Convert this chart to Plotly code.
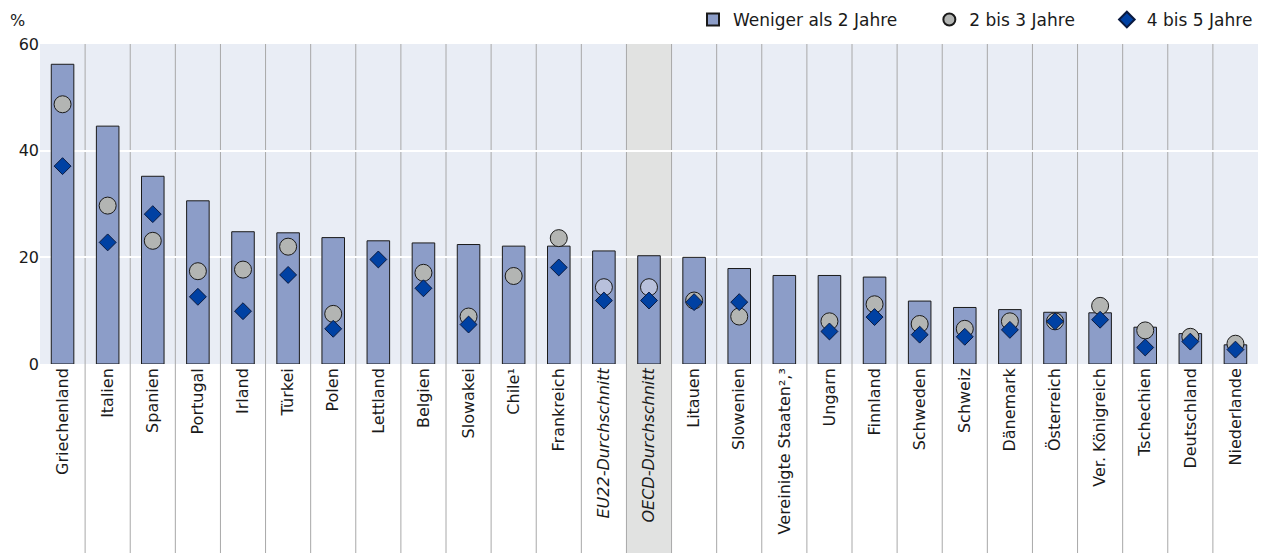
import plotly.graph_objects as go

categories = ["Griechenland", "Italien", "Spanien", "Portugal", "Irland", "Türkei", "Polen",
              "Lettland", "Belgien", "Slowakei", "Chile¹", "Frankreich", "EU22-Durchschnitt",
              "OECD-Durchschnitt", "Litauen", "Slowenien", "Vereinigte Staaten²,³", "Ungarn",
              "Finnland", "Schweden", "Schweiz", "Dänemark", "Österreich", "Ver. Königreich",
              "Tschechien", "Deutschland", "Niederlande"]
italic_labels = ["EU22-Durchschnitt", "OECD-Durchschnitt"]

weniger_2 = [56.2, 44.6, 35.2, 30.6, 24.8, 24.6, 23.7, 23.1, 22.7, 22.4, 22.1, 22.1, 21.2,
             20.3, 20.0, 17.9, 16.6, 16.6, 16.3, 11.8, 10.6, 10.2, 9.7, 9.6, 6.9, 5.7, 3.6]
jahre_2_3 = [48.7, 29.7, 23.1, 17.4, 17.7, 22.0, 9.4, None, 17.1, 8.9, 16.5, 23.6, 14.4,
             14.4, 11.9, 8.9, None, 8.0, 11.2, 7.5, 6.6, 8.0, 8.0, 10.9, 6.3, 5.1, 3.8]
jahre_4_5 = [37.1, 22.8, 28.1, 12.6, 9.9, 16.7, 6.6, 19.6, 14.2, 7.4, None, 18.1, 11.9,
             11.9, 11.6, 11.6, None, 6.1, 8.8, 5.5, 5.1, 6.4, 8.0, 8.3, 3.1, 4.2, 2.7]

y_ticks = [0, 20, 40, 60]

FONT = "DejaVu Sans"
NB = "\u00a0"
ticktext = [f"<i>{c}</i>" if c in italic_labels else c for c in categories]
circle_colors = ["#b8c0dc" if c in italic_labels else "#b3b5b3" for c in categories]

fig = go.Figure()
fig.add_trace(go.Bar(
    x=categories, y=weniger_2, name="Weniger als 2 Jahre" + NB * 5,
    width=0.5, marker=dict(color="#8c9dc8", line=dict(color="#1a1a1a", width=1)),
))
fig.add_trace(go.Scatter(
    x=categories, y=jahre_2_3, name="2 bis 3 Jahre" + NB * 5, mode="markers",
    marker=dict(symbol="circle", size=17, color=circle_colors,
                line=dict(color="#1a1a1a", width=1)),
))
fig.add_trace(go.Scatter(
    x=categories, y=jahre_4_5, name="4 bis 5 Jahre", mode="markers",
    marker=dict(symbol="diamond", size=13, color="#0041a3",
                line=dict(color="#0a1a40", width=1)),
))

shapes = []
# OECD highlight column
oecd_i = categories.index("OECD-Durchschnitt")
shapes.append(dict(type="rect", xref="x", yref="paper", x0=oecd_i - 0.5, x1=oecd_i + 0.5,
                   y0=-0.6, y1=1.0, fillcolor="#e1e2e1", line=dict(width=0), layer="below"))
# separators
for i in range(len(categories) - 1):
    shapes.append(dict(type="line", xref="x", yref="paper", x0=i + 0.5, x1=i + 0.5,
                       y0=-0.6, y1=1.0, line=dict(color="#a8a8a8", width=1), layer="below"))

fig.update_layout(
    width=1267, height=553,
    margin=dict(l=40, r=9, t=44, b=189, autoexpand=False),
    paper_bgcolor="white", plot_bgcolor="#e9edf5",
    font=dict(family=FONT, size=16, color="#1a1a1a"),
    bargap=0.5,
    shapes=shapes,
    showlegend=True,
    legend=dict(orientation="h", x=1.0, xanchor="right", y=1.075, yanchor="middle",
                font=dict(family=FONT, size=17), bgcolor="rgba(0,0,0,0)",
                traceorder="normal", itemsizing="constant"),
    annotations=[dict(text="%", xref="paper", yref="paper", x=-0.026, y=1.075,
                      xanchor="left", yanchor="middle", showarrow=False,
                      font=dict(family=FONT, size=16))],
)
fig.update_xaxes(
    type="category", tickvals=categories, ticktext=ticktext, tickangle=-90,
    showgrid=False, zeroline=False, showline=False, ticks="",
    tickfont=dict(family=FONT, size=16), range=[-0.5, len(categories) - 0.5],
)
fig.update_yaxes(
    range=[0, 60], tickvals=y_ticks, showgrid=True, gridcolor="white", gridwidth=1.5,
    zeroline=False, showline=False, ticks="", tickfont=dict(family=FONT, size=16),
)

fig.write_html("out.html", config={"displayModeBar": False},
               post_script="document.body.style.margin='0';document.body.style.overflow='hidden';")
